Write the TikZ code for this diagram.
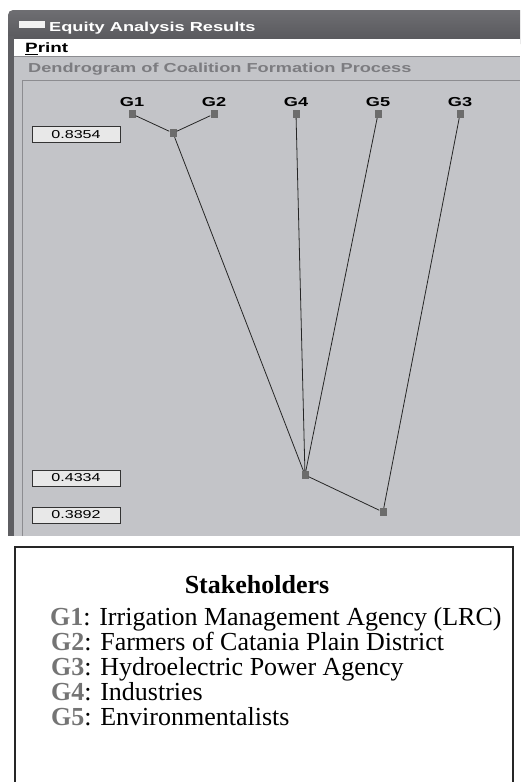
\documentclass[tikz,border=0pt]{standalone}
\usepackage{fontspec}
\setmainfont{Liberation Serif}
\newfontfamily\winfont[FakeStretch=1.4]{Liberation Sans}
\usepackage{tikz}
\usetikzlibrary{positioning}

\definecolor{bartop}{HTML}{6E6E72}
\definecolor{barmid}{HTML}{828286}
\definecolor{barlow}{HTML}{56565A}
\definecolor{edgegray}{HTML}{5E5E62}
\definecolor{panelgray}{HTML}{C3C4C8}
\definecolor{rulegray}{HTML}{8C8C90}
\definecolor{capgray}{HTML}{7C7C80}
\definecolor{jointgray}{HTML}{6C6C6C}
\definecolor{boxfill}{HTML}{E8E8E8}
\definecolor{keygray}{HTML}{747474}

\newcommand\keyname[1]{{\color{keygray}\bfseries #1}}

\tikzset{
  joint/.style={fill=jointgray, inner sep=0pt, minimum width=7pt, minimum height=8pt},
  leaf name/.style={font=\winfont\bfseries\fontsize{13}{14}\selectfont, inner sep=1pt, label distance=1.5pt},
  leaf/.style={joint, label={[leaf name]above:#1}},
  link/.style={draw=black!85, line width=0.8pt},
  level/.style={draw=black!80, fill=boxfill, line width=0.9pt, minimum width=88pt,
    minimum height=16pt, inner sep=0pt, font=\winfont\fontsize{11.5}{12}\selectfont},
  key title/.style={anchor=base, font=\bfseries\fontsize{26}{25}\selectfont},
  key item/.style={anchor=base west, inner sep=0pt, font=\fontsize{26}{25}\selectfont},
}

\begin{document}
\begin{tikzpicture}
        [x=1pt, y=-1pt, node distance=82pt]
        \useasboundingbox (0,0) rectangle (520,782);
        \clip (0,0) rectangle (520,782);

        % window chrome
        \shade [top color=bartop, middle color=barmid, bottom color=barlow, rounded corners=5pt]
            (8,10) rectangle (540,44);
        \fill [edgegray] (8,36) rectangle (14,536);
        \fill [white] (14,39) rectangle (520,56);
        \draw [rulegray] (14,56.5) -- (520,56.5);
        \fill [panelgray] (14,57) rectangle (520,536);
        \draw [rulegray, line width=0.8pt] (22,536) |- (520,80);
        \fill [white!95!black] (19,21) rectangle (45,28);

        \node [anchor=base west, inner sep=0pt, text=white, font=\winfont\bfseries\fontsize{13}{14}\selectfont]
            (title) at (49,31) {Equity Analysis Results};
        \node [anchor=base west, inner sep=0pt, font=\winfont\bfseries\fontsize{13.5}{14}\selectfont]
            (menu) at (25,52.5) {\underline{P}rint};
        \node [anchor=base west, inner sep=0pt, text=capgray, font=\winfont\bfseries\fontsize{13}{14}\selectfont]
            (caption) at (28,72.7) {Dendrogram of Coalition Formation Process};

        % dendrogram
        \node [leaf=G1] (g1) at (132,114) {};
        \node [leaf=G2, right of=g1] (g2) {};
        \node [leaf=G4, right of=g2] (g4) {};
        \node [leaf=G5, right of=g4] (g5) {};
        \node [leaf=G3, right of=g5] (g3) {};

        \node [joint] (g12) at (173,133) {};
        \node [joint] (g1245) at (305,475) {};
        \node [joint] (gall) at (383,512) {};

        \draw [link] (g1) -- (g12);
        \draw [link] (g2) -- (g12);
        \draw [link] (g12) -- (g1245);
        \draw [link] (g4) -- (g1245);
        \draw [link] (g5) -- (g1245);
        \draw [link] (g1245) -- (gall);
        \draw [link] (g3) -- (gall);

        \node [level] (lv1) at (76,134.5) {0.8354};
        \node [level] (lv2) at (76,478) {0.4334};
        \node [level] (lv3) at (76,515) {0.3892};

        % stakeholder key
        \draw [line width=2pt, black!85] (15,800) |- (513,547) -- (513,800);
        \node [key title] (stake) at (257,593) {Stakeholders};
        \node [key item] (k1) at (50,625) {\keyname{G1}: Irrigation Management Agency (LRC)};
        \node [key item] (k2) at (51,650) {\keyname{G2}: Farmers of Catania Plain District};
        \node [key item] (k3) at (51,675) {\keyname{G3}: Hydroelectric Power Agency};
        \node [key item] (k4) at (51,700) {\keyname{G4}: Industries};
        \node [key item] (k5) at (51,725) {\keyname{G5}: Environmentalists};
    \end{tikzpicture}
\end{document}
